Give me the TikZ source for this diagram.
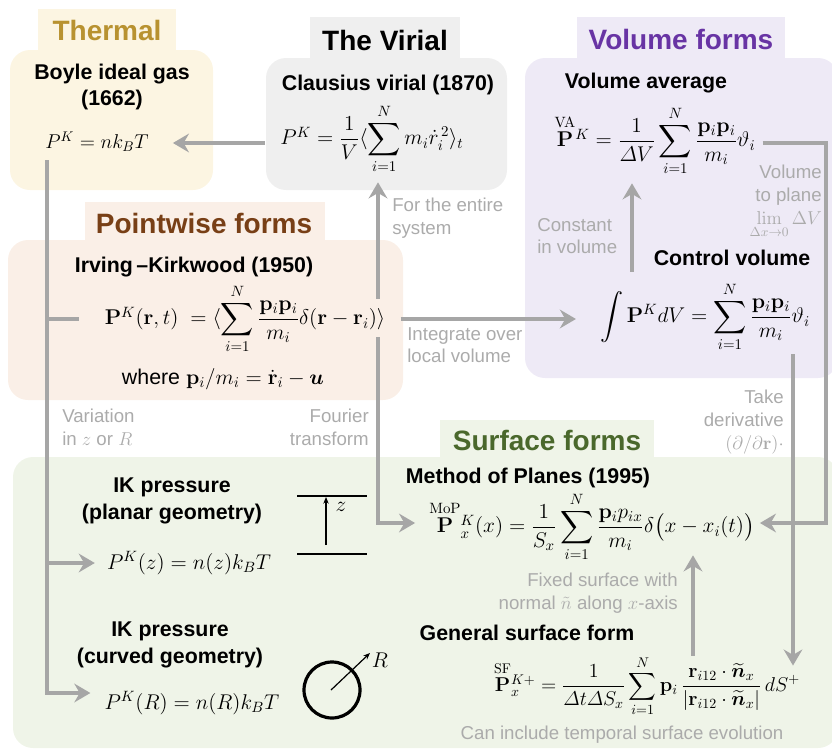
\RequirePackage{fix-cm}
\documentclass[tikz,border=0pt]{standalone}
\usepackage{amsmath}
\usepackage[no-math]{fontspec}
\setmainfont{Liberation Sans}
\usetikzlibrary{arrows.meta,calc}
\definecolor{thermbg}{HTML}{FCF5E2}
\definecolor{thermtt}{HTML}{B89230}
\definecolor{virbg}{HTML}{EFEFEF}
\definecolor{volbg}{HTML}{EEEAF6}
\definecolor{voltt}{HTML}{6834A4}
\definecolor{ptbg}{HTML}{FAEFE7}
\definecolor{pttt}{HTML}{783F16}
\definecolor{surfbg}{HTML}{EFF4E8}
\definecolor{surftt}{HTML}{4A682C}
\definecolor{linegray}{HTML}{A6A6A6}
\definecolor{notegray}{HTML}{ABABAB}
\begin{document}
\begin{tikzpicture}[x=0.75pt,y=-0.75pt,
  panel/.style={rounded corners=15pt},
  hdr/.style={font=\fontsize{16}{20}\selectfont\bfseries, align=center, inner sep=0pt},
  ttl/.style={font=\fontsize{21}{24}\selectfont\bfseries, inner sep=0pt},
  note/.style={font=\fontsize{14}{17}\selectfont, text=notegray, inner sep=0pt},
  eq/.style={font=\fontsize{16}{19}\selectfont, inner sep=0pt},
  eqs/.style={font=\fontsize{15}{18}\selectfont, inner sep=0pt},
  ln/.style={draw=linegray, line width=2.3pt},
  arr/.style={ln, -{Stealth[length=12pt,width=14pt,inset=4pt]}},
  icon/.style={draw=black, line width=2pt}]
\useasboundingbox (0,0) rectangle (832,750);

% ---------- panels ----------
\fill[thermbg,panel] (10,50) rectangle (213,190);
\fill[thermbg] (38,9) rectangle (176,52);
\fill[virbg,panel] (266,58) rectangle (507,190);
\fill[virbg] (310,17) rectangle (460,60);
\fill[volbg,panel] (525,58) rectangle (838,378);
\fill[volbg] (577,17) rectangle (785,62);
\fill[ptbg,panel] (8,240) rectangle (403,400);
\fill[ptbg] (85,202) rectangle (325,242);
\fill[surfbg,panel] (13,457) rectangle (838,748);
\fill[surfbg] (440,420) rectangle (654,460);

% ---------- titles ----------
\node[ttl,text=thermtt] (tthermal) at (107,30) {Thermal};
\node[ttl] (tvirial) at (385,40) {The Virial};
\node[ttl,text=voltt] (tvolume) at (681,39) {Volume forms};
\node[ttl,text=pttt] (tpoint) at (204,223) {Pointwise forms};
\node[ttl,text=surftt] (tsurf) at (547,440) {Surface forms};

% ---------- headers ----------
\node[hdr] (hboyle) at (112,87) {Boyle ideal gas\\(1662)};
\node[hdr] (hclaus) at (388,85) {Clausius virial (1870)};
\node[hdr] (hva) at (646,83) {Volume average};
\node[hdr] (hcv) at (732,258) {Control volume};
\node[hdr] (hik) at (194,267) {Irving\,–Kirkwood (1950)};
\node[hdr] (hplan) at (172,501) {IK pressure\\(planar geometry)};
\node[hdr] (hcurv) at (170,645) {IK pressure\\(curved geometry)};
\node[hdr] (hmop) at (528,478) {Method of Planes (1995)};
\node[hdr] (hsf) at (527,633) {General surface form};

% ---------- formulas ----------
\node[eqs] (boyle) at (97,142) {$P^K = nk_BT$};
\node[eq] (vir) at (372,139) {$P^K = \dfrac{1}{V}\langle \displaystyle\sum_{i=1}^{N} m_i \dot r_i^{\,2}\rangle_t$};
\node[eq] (va) at (655,141) {$\overset{\mathrm{VA}}{\mathbf{P}}{}^{K} = \dfrac{1}{\varDelta V}\displaystyle\sum_{i=1}^{N}\dfrac{\mathbf p_i\mathbf p_i}{m_i}\vartheta_i$};
\node[eq] (cv) at (705,317) {$\displaystyle\int \mathbf P^K dV = \sum_{i=1}^{N}\frac{\mathbf p_i\mathbf p_i}{m_i}\vartheta_i$};
\node[eq] (ik) at (245,319) {$\mathbf P^K(\mathbf r,t)\ = \langle\displaystyle\sum_{i=1}^{N}\frac{\mathbf p_i\mathbf p_i}{m_i}\delta(\mathbf r-\mathbf r_i)\rangle$};
\node[eq] (where) at (223,379) {where $\mathbf p_i/m_i = \dot{\mathbf r}_i - \boldsymbol u$};
\node[eq] (pkz) at (189,563) {$P^K(z) = n(z)k_BT$};
\node[eq] (pkr) at (192,703) {$P^K(R) = n(R)k_BT$};
\node[eq] (mop) at (592,527) {$\overset{\mathrm{MoP}}{\mathbf P}{}^{K}_{x}(x) = \dfrac{1}{S_x}\displaystyle\sum_{i=1}^{N}\frac{\mathbf p_i p_{ix}}{m_i}\delta\big(x-x_i(t)\big)$};
\node[eqs] (sf) at (647,686) {$\overset{\mathrm{SF}}{\mathbf P}{}^{K+}_{x} = \dfrac{1}{\varDelta t\varDelta S_x}\displaystyle\sum_{i=1}^{N}\mathbf p_i\,\frac{\mathbf r_{i12}\cdot\widetilde{\boldsymbol n}_x}{|\mathbf r_{i12}\cdot\widetilde{\boldsymbol n}_x|}\,dS^+$};

% ---------- notes ----------
\node[note,align=left,anchor=north west] (nentire) at (392,198) {For the entire\\system};
\node[note,align=left,anchor=north west] (nint) at (407,327) {Integrate over\\local volume};
\node[note,align=left,anchor=north west] (nconst) at (537,218) {Constant\\in volume};
\node[note,align=right,anchor=north east] (nvtp) at (822,165) {Volume\\to plane\\$\lim\limits_{\Delta x\to 0}\Delta V$};
\node[note,align=right,anchor=north east] (nder) at (784,390) {Take\\derivative\\$(\partial/\partial\mathbf r)\cdot$};
\node[note,align=left,anchor=north west] (nvar) at (62,409) {Variation\\in $z$ or $R$};
\node[note,align=right,anchor=north east] (nfour) at (369,409) {Fourier\\transform};
\node[note,align=right,anchor=north east] (nfix) at (678,573) {Fixed surface with\\normal $\tilde n$ along $x$-axis};
\node[note] (ncan) at (622,735) {Can include temporal surface evolution};

% ---------- icons ----------
\draw[icon] (297,496) -- (367,496);
\draw[icon] (297,554) -- (367,554);
\draw[draw=black,line width=0.9pt,-{Stealth[length=5pt,width=4pt]}] (326,545) -- (326,497);
\node[eq] (zlab) at (341,507) {$z$};
\draw[draw=black,line width=2.4pt] (332,690) circle (28);
\draw[draw=black,line width=0.9pt,-{Stealth[length=5pt,width=4pt]}] (331,690) -- (370,653);
\node[eq] (rlab) at (380,660) {$R$};

% ---------- connectors ----------
\coordinate (trunk) at (47,0);
\coordinate (col) at (378,0);
\coordinate (colv) at (632,0);
\coordinate (colr) at (826,0);
\coordinate (colc) at (793,0);
\coordinate (cols) at (693,0);

\draw[arr] ($(vir.west)+(-15,4)$) -- ($(boyle.east)+(24,1)$);
\draw[arr] ($(boyle.south -| trunk)+(0,8)$) |- ($(pkr.west)+(-14,-10)$);
\draw[arr] (trunk |- pkz.west) -- ($(pkz.west)+(-12,0)$);
\draw[ln] (trunk |- ik.west) -- ($(ik.west)+(-25,0)$);
\draw[arr] ($(ik.north -| col)+(0,15)$) -- ($(vir.south -| col)+(0,8)$);
\draw[arr] ($(ik.south -| col)+(0,-17)$) |- ($(mop.west)+(-14,-4)$);
\draw[arr] ($(ik.east)+(15,0)$) -- ($(ik.east -| cv.west)+(-24,0)$);
\draw[arr] ($(cv.north -| colv)+(0,-10)$) -- ($(va.south -| colv)+(0,7)$);
\draw[arr] ($(va.east)+(7,2)$) -| ($(colr |- mop.east)+(0,-4)$) -- ($(mop.east)+(5,-4)$);
\draw[arr] ($(cv.south -| colc)+(0,2)$) -- ($(sf.north -| colc)+(0,10)$);
\draw[arr] (sf.north -| cols) -- ($(mop.south -| cols)+(0,-7)$);
\end{tikzpicture}
\end{document}
